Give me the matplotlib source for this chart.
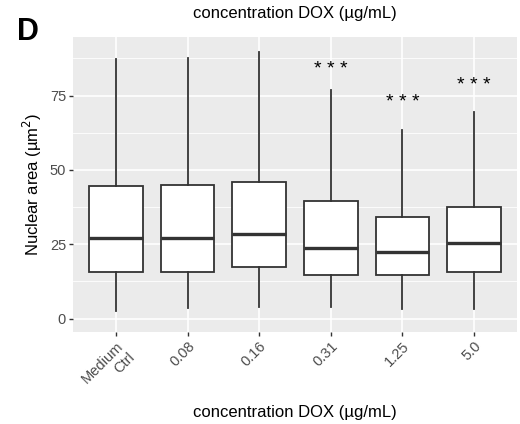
import numpy as np
import matplotlib
matplotlib.use("Agg")
import matplotlib.pyplot as plt
from matplotlib.transforms import offset_copy

# box statistics (µm^2)
groups = ["Medium\nCtrl", "0.08", "0.16", "0.31", "1.25", "5.0"]
whis_lo = [2.6, 3.5, 3.8, 3.8, 3.2, 3.2]
q1 = [15.7, 15.7, 17.3, 14.7, 14.7, 15.8]
medians = [27.0, 27.0, 28.3, 23.9, 22.4, 25.5]
q3 = [44.5, 44.8, 46.1, 39.6, 34.3, 37.5]
whis_hi = [87.2, 87.6, 89.7, 76.8, 63.4, 69.6]
stars = ["", "", "", "* * *", "* * *", "* * *"]
star_y = [None, None, None, 85.1, 73.9, 79.6]

plt.rcParams['font.family'] = ['Liberation Sans', 'DejaVu Sans']

fig = plt.figure(figsize=(5.2, 4.24), dpi=100)
ax = fig.add_axes([0.1404, 0.217, 0.854, 0.6957])
ax.set_facecolor("#EBEBEB")

stats = []
for i in range(len(groups)):
    stats.append(dict(med=medians[i], q1=q1[i], q3=q3[i],
                      whislo=whis_lo[i], whishi=whis_hi[i], fliers=[]))

pos = np.arange(1, len(groups) + 1)
ax.bxp(stats, positions=pos, widths=0.75, patch_artist=True, showcaps=False,
       boxprops=dict(facecolor="white", edgecolor="#333333", linewidth=1.3),
       medianprops=dict(color="#333333", linewidth=2.4, solid_capstyle="butt"),
       whiskerprops=dict(color="#333333", linewidth=1.3),
       zorder=3)

# asterisk glyphs sit high in the line box, so nudge them down a bit
star_tr = offset_copy(ax.transData, fig=fig, y=-4, units="dots")
for i in range(len(groups)):
    if stars[i]:
        ax.text(pos[i], star_y[i], stars[i], ha="center", va="center",
                fontsize=14, color="black", zorder=4, transform=star_tr)

ax.set_xlim(0.4, 6.6)
ax.set_ylim(-4.5, 94.7)
ax.set_yticks([0, 25, 50, 75])
ax.set_yticks([12.5, 37.5, 62.5, 87.5], minor=True)
ax.set_xticks(pos)
ax.set_xticklabels(groups, rotation=45, ha="right", va="top",
                   rotation_mode="anchor", multialignment="right")
ax.grid(which="major", color="white", linewidth=1.2, zorder=0)
ax.grid(which="minor", axis="y", color="white", linewidth=0.6, zorder=0)
ax.set_axisbelow(True)
for s in ax.spines.values():
    s.set_visible(False)
ax.tick_params(which="major", length=3, width=1, color="#333333",
               labelcolor="#4D4D4D", labelsize=10.5, pad=2)
ax.tick_params(which="minor", length=0)

ax.set_ylabel(r"Nuclear area (µm$^2$)", fontsize=12, color="black", labelpad=4)

# axis titles placed in figure coordinates
fig.text(0.5675, 0.028, "concentration DOX (µg/mL)", fontsize=12,
         ha="center", va="center")
fig.text(0.5675, 0.967, "concentration DOX (µg/mL)", fontsize=12,
         ha="center", va="center")

fig.text(0.032, 0.905, "D", fontsize=22, fontweight="bold", ha="left", va="baseline")

fig.savefig("out.png", dpi=100)
